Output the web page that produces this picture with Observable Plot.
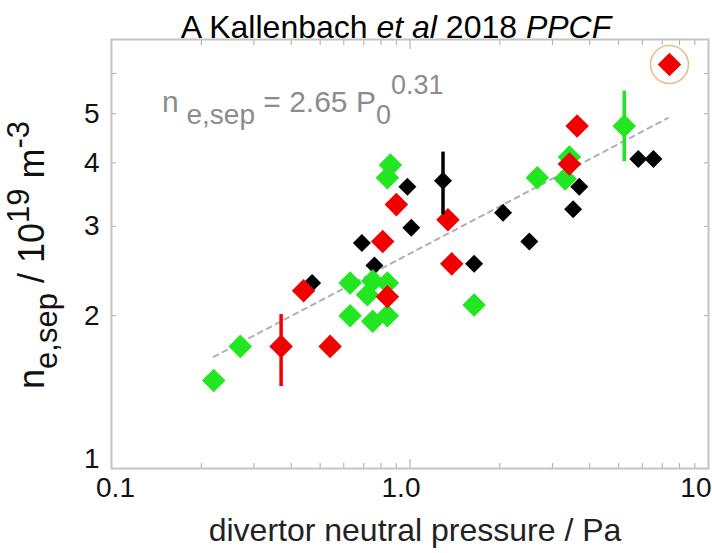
<!DOCTYPE html>
<html>
<head>
<meta charset="utf-8">
<script src="https://cdn.jsdelivr.net/npm/d3@7"></script>
<script src="https://cdn.jsdelivr.net/npm/@observablehq/plot@0.6"></script>
<style>
  body { margin: 0; background: #fff; }
  #chart { position: relative; width: 712px; height: 553px; }
  #chart svg { font-family: "Liberation Sans", Arial, Helvetica, sans-serif; }
</style>
</head>
<body>
<div id="chart"></div>
<script>
// ---------------- data ----------------
// divertor neutral pressure P0 (Pa) and n_e,sep (1e19 m^-3)
const blackP = [0.47, 0.69, 0.76, 0.98, 1.01, 1.29, 1.64, 2.05, 2.51, 3.52, 3.69, 5.82, 6.54];
const blackN = [2.32, 2.78, 2.51, 3.59, 2.98, 3.69, 2.53, 3.19, 2.80, 3.24, 3.59, 4.07, 4.07];

const greenP = [0.22, 0.27, 0.63, 0.75, 0.84, 0.72, 0.63, 0.75, 0.84, 0.86, 0.84, 1.64, 2.67, 3.31, 3.42, 5.22];
const greenN = [1.49, 1.74, 2.32, 2.34, 2.32, 2.20, 2.00, 1.95, 2.00, 3.96, 3.74, 2.10, 3.74, 3.72, 4.11, 4.73];

const redP = [0.37, 0.44, 0.54, 0.81, 0.84, 0.90, 1.34, 1.38, 3.42, 3.63, 7.40];
const redN = [1.74, 2.24, 1.74, 2.80, 2.18, 3.31, 3.09, 2.53, 3.98, 4.73, 6.25];

// error bars
const errSeries = ["red", "black", "green"];
const errP  = [0.37, 1.29, 5.22];
const errLo = [1.45, 3.16, 4.02];
const errHi = [2.01, 4.20, 5.54];

// highlighted (circled) point
const circledP = [7.40];
const circledN = [6.25];

// dashed fit line n = 2.65 P0^0.31, end points
const fitP = [0.22, 7.3];
const fitN = [1.66, 4.9];

// axis ticks and labels
const xMinorTicks = [0.2, 0.3, 0.4, 0.5, 0.6, 0.7, 0.8, 0.9, 2, 3, 4, 5, 6, 7, 8, 9];
const xMajorTicks = [1];
const xTickLabels = ["0.1", "1.0", "10"];
const yTicks = [2, 3, 4, 5, 6];
const yTickLabels = [1, 2, 3, 4, 5];

const titleText = ["A Kallenbach ", "et al", " 2018 ", "PPCF"];
const xLabelText = "divertor neutral pressure / Pa";

// ---------------- build ----------------
const colors = { black: "#000000", green: "#22e622", red: "#f20000" };
const rows = (P, N, s) => P.map((p, i) => ({ p, n: N[i], s }));
const black = rows(blackP, blackN, "black");
const green = rows(greenP, greenN, "green");
const red = rows(redP, redN, "red");
const errs = errP.map((p, i) => ({ p, lo: errLo[i], hi: errHi[i], s: errSeries[i] }));
const circled = rows(circledP, circledN, "red");
const fit = rows(fitP, fitN, "fit");

const tickColor = "#a8a8a8";
const FS = 28;

const plot = Plot.plot({
  width: 712,
  height: 553,
  marginLeft: 111,
  marginRight: 4,
  marginTop: 39,
  marginBottom: 85,
  style: { background: "transparent", overflow: "visible" },
  x: { type: "log", domain: [0.1, 10] },
  y: { type: "log", domain: [1, 7] },
  marks: [
    // inward ticks on all four sides
    Plot.axisX({ ticks: xMinorTicks, anchor: "bottom", tickSize: 5, dy: -5, tickFormat: () => "", stroke: tickColor, label: null }),
    Plot.axisX({ ticks: xMajorTicks, anchor: "bottom", tickSize: 9, dy: -9, tickFormat: () => "", stroke: tickColor, label: null }),
    Plot.axisX({ ticks: xMinorTicks, anchor: "top", tickSize: 5, dy: 5, tickFormat: () => "", stroke: tickColor, label: null }),
    Plot.axisX({ ticks: xMajorTicks, anchor: "top", tickSize: 9, dy: 9, tickFormat: () => "", stroke: tickColor, label: null }),
    Plot.axisY({ ticks: yTicks, anchor: "left", tickSize: 5, dx: 5, tickFormat: () => "", stroke: tickColor, label: null }),
    Plot.axisY({ ticks: yTicks, anchor: "right", tickSize: 5, dx: -5, tickFormat: () => "", stroke: tickColor, label: null }),
    Plot.frame({ stroke: "#c4c4c4", strokeWidth: 2 }),

    // tick labels
    Plot.text([0.1], { x: d => d, text: [xTickLabels[0]], frameAnchor: "bottom", lineAnchor: "top", dy: 9, dx: 4, fontSize: FS, fill: "#111" }),
    Plot.text([1], { x: d => d, text: [xTickLabels[1]], frameAnchor: "bottom", lineAnchor: "top", dy: 9, dx: -9, fontSize: FS, fill: "#111" }),
    Plot.text([10], { x: d => d, text: [xTickLabels[2]], frameAnchor: "bottom", lineAnchor: "top", dy: 9, dx: 3, textAnchor: "end", fontSize: FS, fill: "#111" }),
    Plot.text(yTickLabels.slice(1), { y: d => d, text: d => String(d), frameAnchor: "left", textAnchor: "end", dx: -12, fontSize: FS, fill: "#111" }),
    Plot.text(yTickLabels.slice(0, 1), { y: d => d, text: d => String(d), frameAnchor: "left", textAnchor: "end", dx: -12, dy: -9, fontSize: FS, fill: "#111" }),

    // fit line
    Plot.line(fit, { x: "p", y: "n", stroke: "#b0b0b0", strokeWidth: 2, strokeDasharray: "5,5" }),

    // data points
    Plot.dot(black, { x: "p", y: "n", symbol: "diamond2", r: 8.1, fill: colors.black }),
    Plot.dot(green, { x: "p", y: "n", symbol: "diamond2", r: 10.6, fill: colors.green }),
    Plot.dot(red, { x: "p", y: "n", symbol: "diamond2", r: 10.6, fill: colors.red }),

    // error bars
    Plot.ruleX(errs, { x: "p", y1: "lo", y2: "hi", stroke: d => colors[d.s], strokeWidth: 3.5 }),

    // highlight circle
    Plot.dot(circled, { x: "p", y: "n", r: 19, stroke: "#e6c08c", strokeWidth: 1.6, fill: "none" })
  ]
});

document.getElementById("chart").appendChild(plot);

// text decorations with sub/superscripts
const svg = d3.select(plot);

// title
const t = svg.append("text")
  .attr("x", 396).attr("y", 38)
  .attr("text-anchor", "middle")
  .style("font-size", "32px").attr("fill", "#000");
titleText.forEach((s, i) => {
  t.append("tspan").style("font-style", i % 2 === 1 ? "italic" : "normal").text(s);
});

// x label
svg.append("text")
  .attr("x", 415).attr("y", 541)
  .attr("text-anchor", "middle")
  .style("font-size", "32px").attr("fill", "#222")
  .text(xLabelText);

// y label: n_{e,sep} / 10^{19} m^{-3}
const yl = svg.append("text")
  .attr("transform", "translate(44,255) rotate(-90)")
  .attr("text-anchor", "middle")
  .style("font-size", "36px").attr("fill", "#111");
yl.append("tspan").text("n");
yl.append("tspan").attr("dy", 13).style("font-size", "31px").text("e,sep");
yl.append("tspan").attr("dy", -13).text(" / 10");
yl.append("tspan").attr("dy", -15).style("font-size", "31px").text("19");
yl.append("tspan").attr("dy", 15).text(" m");
yl.append("tspan").attr("dy", -15).style("font-size", "31px").text("-3");

// fit annotation: n_{e,sep} = 2.65 P_0^{0.31}
const an = svg.append("text")
  .attr("x", 162).attr("y", 112)
  .attr("text-anchor", "start")
  .style("font-size", "30px").attr("fill", "#8c8c8c");
an.append("tspan").text("n");
an.append("tspan").attr("dy", 12).style("font-size", "28px").text(" e,sep");
an.append("tspan").attr("dy", -12).text(" = 2.65 P");
an.append("tspan").attr("dy", 12).style("font-size", "27px").text("0");
an.append("tspan").attr("dy", -30).style("font-size", "27px").text("0.31");
</script>
</body>
</html>
